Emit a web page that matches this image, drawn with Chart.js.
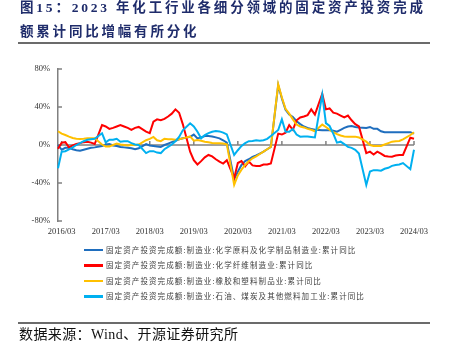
<!DOCTYPE html>
<html><head><meta charset="utf-8">
<script src="https://cdn.jsdelivr.net/npm/chart.js@4.4.1/dist/chart.umd.min.js"></script>
<style>
html,body{margin:0;padding:0;background:#fff;}
#wrap{position:relative;width:451px;height:356px;overflow:hidden;background:#fff;}
#c{position:absolute;left:0;top:0;}
.title{position:absolute;left:20px;top:-4px;font-family:"Liberation Serif","Noto Sans CJK SC",serif;font-weight:bold;font-size:13.5px;letter-spacing:2.8px;color:#1f2c6b;line-height:24px;white-space:nowrap;}
.rule{position:absolute;left:18px;width:412px;height:2px;background:#6b6b6b;}
.src{position:absolute;left:19px;top:327px;font-family:"Liberation Serif","Noto Sans CJK SC",serif;font-size:14px;letter-spacing:0.4px;line-height:16px;color:#111;white-space:nowrap;}
#legend{position:absolute;left:84px;top:242px;}
.lg{display:flex;align-items:center;height:15.5px;}
.lg span.ln{display:inline-block;width:19px;height:2.5px;margin-right:3px;}
.lg span.tx{font-family:"Noto Sans CJK SC",sans-serif;font-size:7.5px;letter-spacing:1.1px;color:#404040;white-space:nowrap;line-height:10px;}
</style></head>
<body>
<div id="wrap">
<canvas id="c" width="451" height="356"></canvas>
<div class="title">图15：2023 年化工行业各细分领域的固定资产投资完成<br>额累计同比增幅有所分化</div>
<div class="rule" style="top:42px"></div>
<div id="legend"></div>
<div class="rule" style="top:322px"></div>
<div class="src">数据来源：Wind、开源证券研究所</div>
</div>
<script>
const labels = [
'2016/02','2016/03','2016/04','2016/05','2016/06','2016/07','2016/08','2016/09','2016/10','2016/11','2016/12',
'2017/01','2017/02','2017/03','2017/04','2017/05','2017/06','2017/07','2017/08','2017/09','2017/10','2017/11','2017/12',
'2018/01','2018/02','2018/03','2018/04','2018/05','2018/06','2018/07','2018/08','2018/09','2018/10','2018/11','2018/12',
'2019/01','2019/02','2019/03','2019/04','2019/05','2019/06','2019/07','2019/08','2019/09','2019/10','2019/11','2019/12',
'2020/01','2020/02','2020/03','2020/04','2020/05','2020/06','2020/07','2020/08','2020/09','2020/10','2020/11','2020/12',
'2021/01','2021/02','2021/03','2021/04','2021/05','2021/06','2021/07','2021/08','2021/09','2021/10','2021/11','2021/12',
'2022/01','2022/02','2022/03','2022/04','2022/05','2022/06','2022/07','2022/08','2022/09','2022/10','2022/11','2022/12',
'2023/01','2023/02','2023/03','2023/04','2023/05','2023/06','2023/07','2023/08','2023/09','2023/10','2023/11','2023/12',
'2024/01','2024/02','2024/03'];

const seriesNames = [
'固定资产投资完成额:制造业:化学原料及化学制品制造业:累计同比',
'固定资产投资完成额:制造业:化学纤维制造业:累计同比',
'固定资产投资完成额:制造业:橡胶和塑料制品业:累计同比',
'固定资产投资完成额:制造业:石油、煤炭及其他燃料加工业:累计同比'];

const chemRaw = [
0,-5,-3,-3,-4.5,-5.5,-6,-5,-4,-3,-2.5,null,
-1,0.5,1,-0.5,-1,-2,-2.5,-3,-3.5,-4.5,-3.5,null,
1,-0.5,-1,-1.5,-2,0,1.5,3,4.5,6,7,null,
8.5,11,7,8,9.5,9.5,9,8,7,5,2.5,null,
-36,-28,-21,-17,-15,-12.5,-11,-9,-7,-4.5,-2,null,
63,49,37,32,29.5,25,22,19.5,18,17,16,null,
15.5,15.5,15.5,15,14,16,18,19.5,20,19,18.5,null,
18,19,17,17,14.5,13.5,13.3,13.3,13.3,13.3,13.3,null,
13.5,12];

const chemFiber = [
-4,2.5,3,-2.5,-0.5,1,2,3,3.5,2.5,1,null,
21,19.5,17,18,19.5,21,19.5,18,16,18,19,null,
14,12.5,24.5,27,26,27.5,30,33,37.5,34,22,null,
-7,-16,-20.5,-17,-13,-10.5,-12,-15,-17.5,-19.5,-16,null,
-35,-19,-17,-22.5,-17.5,-21.5,-22,-22,-20.5,-20.5,-19.5,null,
12,11,13,21,16,26,29,30,31.5,37.5,32,null,
54,37.5,38.5,34,33,31,29,31,26,22,19.5,null,
-8.5,-7,-10,-7,-9,-11.5,-12,-12.3,-11,-10.5,-10.5,null,
7.7,6.5];

const rubberPlastic = [
14.5,12,10.5,8.8,7.4,6.5,6.3,6.5,7,7,7,null,
0.5,-1.5,-1.5,0,1.5,0.5,0,-0.5,0,0,0.5,null,
5,6.5,8.5,5,4,6.5,6,6,5.5,6,7,null,
9,4.5,5.3,4.5,3.5,2.8,2,1.8,1.8,1.5,0.7,null,
-42,-32,-26,-21,-17,-14,-12,-9.5,-7,-4.5,-2,null,
64,50,38,33,27,21.5,19.5,18.5,17,16,14.5,null,
21.5,19,16,13.5,11.5,10,9,8.8,8.8,8.8,8,null,
3.5,0,-1,-1,-1,0.5,2,3.5,4,4.2,6,null,
10.5,13.3];

const petroleum = [
-24.5,-7,-6.5,-4.5,-2.5,0,2,4,5.5,6,6.5,null,
12.3,2.8,5.5,5.5,6.5,3.5,4,4,2,0.5,0,null,
-8.5,-6.5,-6.5,-8,-8.5,-4.5,-2,0.5,4,8.5,15.5,null,
22.8,19.5,14,7,10.5,12.5,14,14.7,14.3,13,11.2,null,
-10.5,-5.5,-1,2,4,4.2,5,4.5,5,6.5,9.5,null,
15.8,27,14,14,17,11,8.8,9,9,8.5,8,null,
53,23,20,12,2.5,3.5,1,-2,-3,-5,-9,null,
-42,-28,-26.5,-26.5,-27,-25,-24,-22,-21,-20.5,-19,null,
-25.5,-5];

const yTicks = [-80,-40,0,40,80];
const colors = ['#1f6ebe','#ff0000','#ffc000','#00b0f0'];
const values = [chemRaw, chemFiber, rubberPlastic, petroleum];

const datasets = values.map((d,k)=>({
  label: seriesNames[k], data: d, borderColor: colors[k], backgroundColor: colors[k],
  borderWidth: 2, pointRadius: 0, tension: 0, spanGaps: true, order: 4-k, fill:false
}));

const marks = {
  id:'marks',
  beforeDatasetsDraw(chart){
    const {ctx, scales:{x,y}, chartArea:a} = chart;
    const y0 = y.getPixelForValue(0);
    ctx.save();
    ctx.strokeStyle = '#808080'; ctx.lineWidth = 1.5;
    ctx.beginPath(); ctx.moveTo(a.left, y0); ctx.lineTo(a.right, y0); ctx.stroke();
    yTicks.forEach(v=>{ const py = y.getPixelForValue(v); ctx.beginPath(); ctx.moveTo(a.left, py); ctx.lineTo(a.left+4, py); ctx.stroke(); });
    labels.forEach((l,i)=>{ if(l.endsWith('/03')){ const px = x.getPixelForValue(i); ctx.beginPath(); ctx.moveTo(px, y0); ctx.lineTo(px, y0-4); ctx.stroke(); } });
    ctx.restore();
  }
};

const chart = new Chart(document.getElementById('c'), {
  type:'line',
  data:{labels, datasets},
  options:{
    responsive:false, animation:false, devicePixelRatio:1,
    layout:{padding:{left:0,right:37,top:69,bottom:115}},
    plugins:{legend:{display:false}, tooltip:{enabled:false}, title:{display:false}},
    scales:{
      x:{
        ticks:{autoSkip:false,maxRotation:0,minRotation:0,padding:6,color:'#333333',
          font:{family:'Liberation Serif',size:8.5},
          callback:function(v,i){ const l = labels[i]; return l.endsWith('/03') ? l : ''; }},
        grid:{display:false,drawTicks:false}, border:{display:false},
        afterFit(s){ s.height = 20; }
      },
      y:{
        min:-80,max:80,
        ticks:{stepSize:40,padding:8,color:'#333333',font:{family:'Liberation Serif',size:8.5},
          callback:v=>v+'%'},
        grid:{display:false,drawTicks:false}, border:{display:true,color:'#808080',width:1.5},
        afterFit(s){ s.width = 58; }
      }
    }
  },
  plugins:[marks]
});

const lg = document.getElementById('legend');
seriesNames.forEach((n,k)=>{
  const row = document.createElement('div'); row.className='lg';
  const ln = document.createElement('span'); ln.className='ln'; ln.style.background = colors[k];
  const tx = document.createElement('span'); tx.className='tx'; tx.textContent = n;
  row.appendChild(ln); row.appendChild(tx); lg.appendChild(row);
});
</script>
</body></html>
